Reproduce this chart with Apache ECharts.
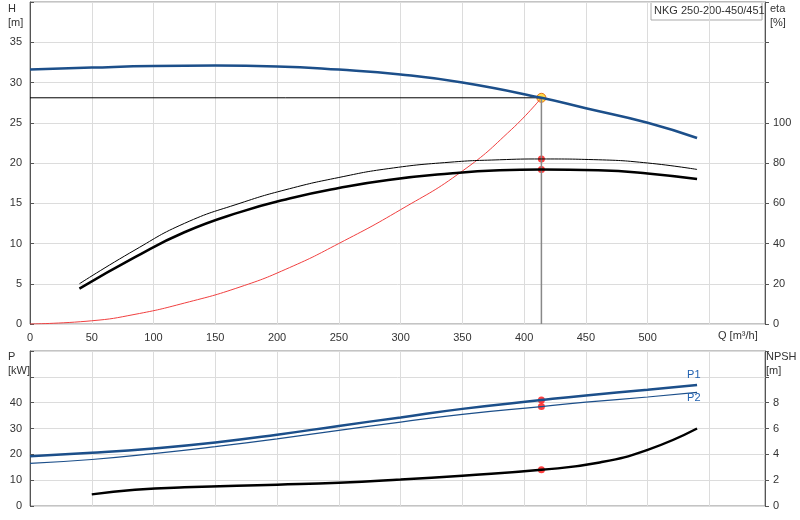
<!DOCTYPE html><html><head><meta charset="utf-8">
<script src="https://cdn.jsdelivr.net/npm/echarts@6/dist/echarts.min.js"></script>
<style>html,body{margin:0;background:#fff}#c{width:800px;height:520px}</style></head><body><div id="c"></div>
<script>
const hCurve=[[0,31.6],[50,31.85],[100,32.05],[150,32.1],[200,32.0],[250,31.6],[300,31.0],[350,30.0],[414,28.1],[450,26.8],[500,25.0],[540,23.1]];
const etaThin=[[40,20],[85,36.8],[125,50],[170,60],[210,67.2],[250,72.8],[290,77.2],[340,80.4],[380,81.6],[414,82],[460,81.6],[500,80],[540,76.8]];
const etaThick=[[40,17.6],[85,33.2],[125,45.6],[170,55.6],[210,62.4],[250,67.6],[290,71.6],[340,74.8],[380,76.4],[414,76.8],[460,76.4],[500,74.8],[540,72]];
const redLine=[[0,0],[50,0.4],[85,1.2],[125,2.6],[170,4.6],[210,7.0],[250,10.0],[300,14.2],[350,19.0],[390,24.2],[414,28.1]];
const p1=[[0,19.3],[50,20.6],[100,22.3],[150,24.6],[200,27.6],[250,31.0],[300,34.3],[350,37.6],[414,41.0],[450,42.8],[500,45.0],[540,46.8]];
const p2=[[0,16.5],[50,18.0],[100,20.3],[150,23.0],[200,26.0],[250,29.3],[300,32.5],[350,35.5],[414,38.5],[450,40.2],[500,42.2],[540,44.0]];
const npsh=[[50,0.9],[85,1.25],[125,1.45],[200,1.65],[250,1.8],[300,2.05],[350,2.35],[414,2.8],[460,3.35],[500,4.35],[540,6.0]];
const duty={q:414,h:28.1,eta1:82,eta2:76.8,p1:41.0,p2:38.5,npsh:2.8};
const F='Liberation Sans';
const ax={fontFamily:F,fontSize:11,color:'#333'};
const gl={show:true,lineStyle:{color:'#dcdcdc'}};
function xA(i,lab){return {type:'value',gridIndex:i,min:0,max:595,interval:50,splitLine:gl,axisTick:{show:false},
 axisLine:{show:false},axisLabel:Object.assign({show:lab},ax,{formatter:v=>v<=500?v:''})};}
function yA(i,max,int,lim,pos){return {type:'value',gridIndex:i,min:0,max:max,interval:int,position:pos,
 splitLine:pos==='left'?gl:{show:false},axisLine:{show:true,lineStyle:{color:'#555'}},axisTick:{show:true,length:4,inside:pos==='left'},
 axisLabel:Object.assign({},ax,{formatter:v=>v<=lim?v:''})};}
const chart=echarts.init(document.getElementById('c'));
chart.setOption({animation:false,
grid:[{left:30,right:35,top:2,height:322,show:true,borderColor:'#888'},{left:30,right:35,top:351,height:155,show:true,borderColor:'#888'}],
xAxis:[xA(0,true),xA(1,false)],
yAxis:[yA(0,40,5,35,'left'),yA(0,160,20,100,'right'),yA(1,60,10,40,'left'),yA(1,12,2,8,'right')],
graphic:[
 {type:'text',left:8,top:2,style:{text:'H\n[m]',font:'11px '+F,fill:'#333',lineHeight:14,align:'center'}},
 {type:'text',left:770,top:2,style:{text:'eta\n[%]',font:'11px '+F,fill:'#333',lineHeight:14}},
 {type:'text',left:8,top:350,style:{text:'P\n[kW]',font:'11px '+F,fill:'#333',lineHeight:14}},
 {type:'text',left:766,top:350,style:{text:'NPSH\n[m]',font:'11px '+F,fill:'#333',lineHeight:14}},
 {type:'text',left:718,top:330,style:{text:'Q [m³/h]',font:'11px '+F,fill:'#333'}},
 {type:'rect',shape:{x:651,y:2,width:111,height:18},style:{fill:'#fff',stroke:'#aaa'}},
 {type:'text',left:654,top:5,style:{text:'NKG 250-200-450/451',font:'11px '+F,fill:'#333'}}
],
series:[
 {type:'line',xAxisIndex:0,yAxisIndex:0,data:[[0,duty.h],[duty.q,duty.h]],symbol:'none',lineStyle:{color:'#000',width:1}},
 {type:'line',xAxisIndex:0,yAxisIndex:0,data:[[duty.q,0],[duty.q,duty.h]],symbol:'none',lineStyle:{color:'#888',width:1.5}},
 {type:'line',xAxisIndex:0,yAxisIndex:0,data:redLine,smooth:true,symbol:'none',lineStyle:{color:'#f04040',width:1}},
 {type:'line',xAxisIndex:0,yAxisIndex:0,data:hCurve,smooth:true,symbol:'none',lineStyle:{color:'#1c4f8a',width:2.5},
  markPoint:{data:[{coord:[40,33.1],symbol:'none',label:{show:true,formatter:'451 mm',fontFamily:F,fontSize:11,color:'#222'}}]}},
 {type:'line',xAxisIndex:0,yAxisIndex:1,data:etaThin,smooth:true,symbol:'none',lineStyle:{color:'#000',width:1}},
 {type:'line',xAxisIndex:0,yAxisIndex:1,data:etaThick,smooth:true,symbol:'none',lineStyle:{color:'#000',width:2.5}},
 {type:'scatter',xAxisIndex:0,yAxisIndex:1,data:[[duty.q,duty.eta1],[duty.q,duty.eta2]],symbolSize:7,itemStyle:{color:'#ff1010'}},
 {type:'scatter',xAxisIndex:0,yAxisIndex:0,data:[[duty.q,duty.h]],symbolSize:9,itemStyle:{color:'#ffd21e',borderColor:'#e05a00',borderWidth:1}},
 {type:'line',xAxisIndex:1,yAxisIndex:2,data:p1,smooth:true,symbol:'none',lineStyle:{color:'#1c4f8a',width:2.5},
  endLabel:{show:true,formatter:'P1',offset:[-18,-10],fontFamily:F,fontSize:11,color:'#2060b0'}},
 {type:'line',xAxisIndex:1,yAxisIndex:2,data:p2,smooth:true,symbol:'none',lineStyle:{color:'#1c4f8a',width:1.2},
  endLabel:{show:true,formatter:'P2',offset:[-18,6],fontFamily:F,fontSize:11,color:'#2060b0'}},
 {type:'line',xAxisIndex:1,yAxisIndex:3,data:npsh,smooth:true,symbol:'none',lineStyle:{color:'#000',width:2.5}},
 {type:'scatter',xAxisIndex:1,yAxisIndex:2,data:[[duty.q,duty.p1],[duty.q,duty.p2]],symbolSize:7,itemStyle:{color:'#ff1010'}},
 {type:'scatter',xAxisIndex:1,yAxisIndex:3,data:[[duty.q,duty.npsh]],symbolSize:7,itemStyle:{color:'#ff1010'}}
]});
</script></body></html>
